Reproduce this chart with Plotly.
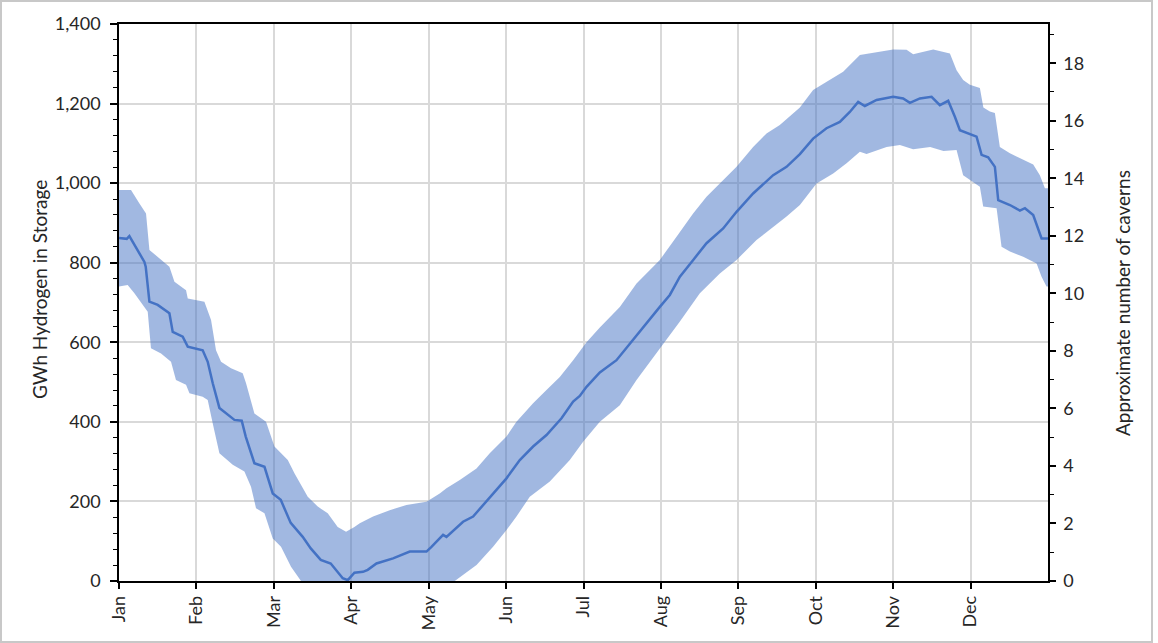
import plotly.graph_objects as go

# Month positions (0 = start of Jan, 12 = end of Dec), months equally spaced
month_labels = ["Jan", "Feb", "Mar", "Apr", "May", "Jun", "Jul", "Aug", "Sep", "Oct", "Nov", "Dec"]
month_ticks = list(range(12))

# Central estimate of hydrogen in storage (GWh)
center_x = [0.0, 0.1, 0.134, 0.242, 0.328, 0.345, 0.393, 0.5, 0.651, 0.694, 0.823, 0.888, 1.081, 1.146, 1.211,
            1.297, 1.491, 1.585, 1.637, 1.749, 1.879, 1.986, 2.089, 2.218, 2.373, 2.477, 2.606, 2.735,
            2.89, 2.955, 3.041, 3.152, 3.213, 3.326, 3.54, 3.756, 3.972, 4.036, 4.186, 4.23, 4.444,
            4.574, 4.703, 4.876, 5.005, 5.177, 5.349, 5.522, 5.716, 5.866, 5.952, 6.039, 6.211, 6.426,
            6.598, 6.814, 6.986, 7.115, 7.245, 7.417, 7.589, 7.804, 7.977, 8.191, 8.45, 8.623, 8.795,
            8.966, 9.139, 9.311, 9.44, 9.548, 9.634, 9.786, 10.0, 10.129, 10.216, 10.345, 10.496,
            10.603, 10.711, 10.797, 10.862, 11.077, 11.142, 11.227, 11.314, 11.357, 11.508, 11.637,
            11.702, 11.809, 11.917, 12.0]
center_y = [862, 860, 867, 832, 802, 790, 702, 694, 673, 626, 614, 589, 580, 551, 497,
            435, 405, 403, 363, 296, 287, 220, 204, 146, 111, 82, 53, 44,
            7, 2, 21, 23, 28, 44, 57, 74, 74, 86, 116, 111, 149,
            162, 191, 229, 258, 304, 338, 367, 409, 451, 465, 488, 524, 555,
            597, 648, 689, 719, 765, 807, 849, 886, 928, 974, 1020, 1041, 1073,
            1112, 1138, 1154, 1179, 1204, 1194, 1209, 1217, 1213, 1202, 1213, 1217,
            1196, 1207, 1167, 1133, 1117, 1071, 1065, 1041, 957, 945, 931,
            937, 920, 861, 861]

# Upper edge of the range (GWh)
upper_x = [0.0, 0.155, 0.264, 0.349, 0.393, 0.543, 0.651, 0.716, 0.866, 0.888, 1.103, 1.189, 1.253,
           1.318, 1.447, 1.598, 1.641, 1.749, 1.899, 2.008, 2.18, 2.266, 2.438, 2.567, 2.696, 2.825,
           2.933, 3.041, 3.11, 3.282, 3.497, 3.713, 3.972, 4.143, 4.23, 4.402, 4.618, 4.789, 5.005,
           5.134, 5.349, 5.522, 5.694, 5.866, 6.039, 6.211, 6.469, 6.685, 6.986, 7.202, 7.416, 7.589,
           7.761, 7.977, 8.191, 8.364, 8.536, 8.795, 8.966, 9.182, 9.354, 9.57, 9.786, 10.0, 10.173,
           10.258, 10.517, 10.733, 10.819, 10.904, 10.991, 11.12, 11.165, 11.249, 11.314, 11.378,
           11.508, 11.724, 11.809, 11.895, 11.96, 12.0]
upper_y = [983, 983, 949, 924, 832, 807, 790, 752, 731, 710, 702, 656, 580,
           551, 535, 522, 497, 421, 400, 338, 304, 271, 212, 187, 170, 136,
           124, 136, 145, 162, 178, 191, 199, 220, 233, 254, 283, 321, 363,
           400, 447, 480, 513, 555, 600, 637, 689, 748, 807, 865, 924, 966,
           999, 1041, 1091, 1125, 1146, 1190, 1234, 1259, 1280, 1322, 1330, 1336, 1335,
           1324, 1336, 1326, 1284, 1259, 1247, 1239, 1190, 1180, 1176, 1091,
           1075, 1054, 1047, 1020, 987, 987]

# Lower edge of the range (GWh), clipped at the axis floor
lower_x = [0.0, 0.112, 0.199, 0.306, 0.371, 0.413, 0.543, 0.672, 0.736, 0.866, 0.91, 1.081, 1.146,
           1.211, 1.297, 1.469, 1.62, 1.705, 1.77, 1.879, 1.986, 2.093, 2.222, 2.351, 4.337, 4.618,
           4.832, 5.005, 5.134, 5.306, 5.565, 5.823, 5.995, 6.211, 6.469, 6.685, 6.899, 7.072, 7.245,
           7.503, 7.761, 7.977, 8.235, 8.45, 8.623, 8.795, 8.881, 9.01, 9.225, 9.398, 9.57, 9.656,
           9.915, 10.087, 10.258, 10.478, 10.65, 10.819, 10.904, 11.033, 11.12, 11.163, 11.336, 11.4,
           11.508, 11.68, 11.853, 11.917, 11.981, 12.0]
lower_y = [740, 744, 723, 694, 677, 585, 572, 551, 505, 493, 472, 463, 455,
           396, 321, 292, 275, 237, 183, 170, 107, 86, 36, 0, 0, 40,
           86, 128, 162, 212, 250, 304, 350, 400, 442, 505, 560, 606, 652,
           723, 773, 807, 857, 890, 916, 945, 966, 999, 1024, 1050, 1079, 1073,
           1091, 1096, 1085, 1091, 1081, 1083, 1020, 1003, 991, 941, 937, 840,
           828, 815, 798, 765, 740, 740]

GWH_PER_CAVERN = 72.3
Y_MAX = 1400

FONT = "Lato"
TXT = "#262626"
BAND = "rgba(68,114,196,0.5)"
LINE = "#4472C4"
GRID = "#d9d9d9"

fig = go.Figure()
fig.add_trace(go.Scatter(x=lower_x, y=lower_y, mode="lines", line=dict(width=0, color=BAND),
                         showlegend=False, hoverinfo="skip"))
fig.add_trace(go.Scatter(x=upper_x, y=upper_y, mode="lines", line=dict(width=0, color=BAND),
                         fill="tonexty", fillcolor=BAND, showlegend=False, hoverinfo="skip"))
fig.add_trace(go.Scatter(x=center_x, y=center_y, mode="lines", line=dict(width=2.5, color=LINE),
                         showlegend=False))
# empty trace that only activates the secondary (caverns) axis
fig.add_trace(go.Scatter(x=[None], y=[None], yaxis="y2", mode="lines", showlegend=False,
                         hoverinfo="skip"))

L, R, T, B = 119, 110, 24, 62
W, H = 1158, 643
pw, ph = W - L - R, H - T - B

fig.update_layout(
    width=W, height=H,
    margin=dict(l=L, r=R, t=T, b=B, pad=0),
    paper_bgcolor="white", plot_bgcolor="white",
    font=dict(family=FONT, color=TXT, size=18),
    xaxis=dict(range=[0, 12], tickmode="array", tickvals=month_ticks, ticktext=month_labels,
               tickangle=-90, showgrid=True, gridcolor=GRID, gridwidth=1.5,
               showline=True, linecolor="black", linewidth=1.5, mirror=True,
               ticks="outside", ticklen=6, tickcolor="black", tickwidth=1.5,
               tickfont=dict(size=18, family=FONT, color=TXT), zeroline=False),
    yaxis=dict(range=[0, Y_MAX], tickmode="linear", tick0=0, dtick=200, tickformat=",d",
               showgrid=True, gridcolor=GRID, gridwidth=1.5,
               showline=True, linecolor="black", linewidth=1.5,
               ticks="outside", ticklen=7, tickcolor="black", tickwidth=1.5,
               ticklabelstandoff=6,
               minor=dict(dtick=40, ticks="outside", ticklen=4, tickcolor="black", tickwidth=1.2,
                          showgrid=False),
               tickfont=dict(size=18, family=FONT, color=TXT), zeroline=False),
    yaxis2=dict(range=[0, Y_MAX / GWH_PER_CAVERN], overlaying="y", side="right",
                tickmode="linear", tick0=0, dtick=2, showgrid=False,
                showline=True, linecolor="black", linewidth=1.5,
                ticks="outside", ticklen=6, tickcolor="black", tickwidth=1.5,
                ticklabelstandoff=4,
                minor=dict(dtick=1, ticks="outside", ticklen=4, tickcolor="black", tickwidth=1.2),
                tickfont=dict(size=18, family=FONT, color=TXT), zeroline=False),
    annotations=[
        dict(text="GWh Hydrogen in Storage", textangle=-90, xref="paper", yref="paper",
             x=(39 - L) / pw, y=(H - B - 290) / ph, xanchor="center", yanchor="middle",
             showarrow=False, font=dict(size=19, family=FONT, color=TXT)),
        dict(text="Approximate number of caverns", textangle=-90, xref="paper", yref="paper",
             x=(1122 - L) / pw, y=(H - B - 303) / ph, xanchor="center", yanchor="middle",
             showarrow=False, font=dict(size=19, family=FONT, color=TXT)),
    ],
    shapes=[dict(type="rect", xref="paper", yref="paper",
                 x0=(1 - L) / pw, x1=(1152 - L) / pw, y0=(H - B - 642) / ph, y1=(H - B - 1) / ph,
                 line=dict(color="#c8c8c8", width=2), fillcolor="rgba(0,0,0,0)", layer="below")],
)

fig.write_html("out.html", config={"displayModeBar": False},
               post_script="document.body.style.margin='0';")
